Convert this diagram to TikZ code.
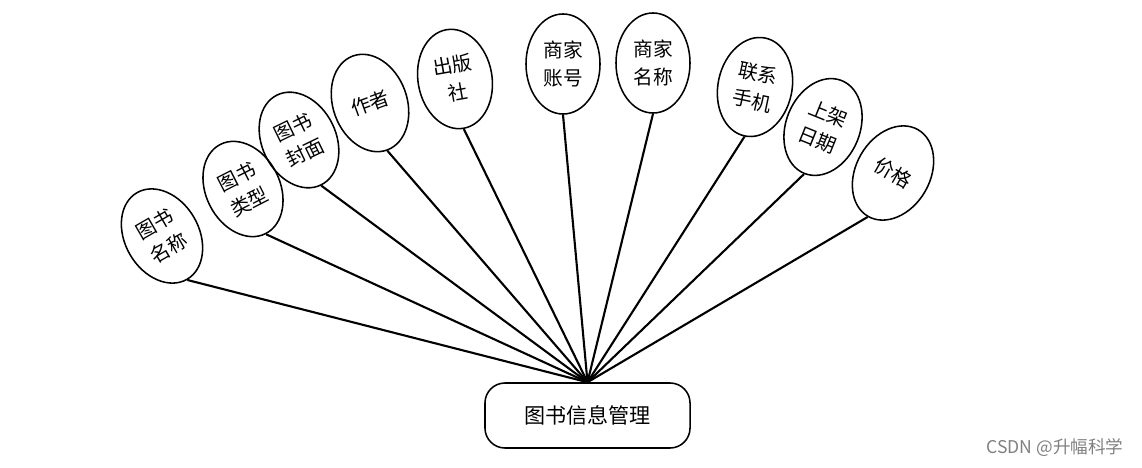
\documentclass[tikz,border=0pt]{standalone}
\usepackage{fontspec}
\newfontfamily\cjk{Noto Sans CJK SC}
\usetikzlibrary{shapes.geometric}

\begin{document}
\begin{tikzpicture}[x=0.025cm,y=0.025cm,
 attr/.style={ellipse,draw,line width=1.1pt,minimum width=1.85cm,minimum height=2.5cm,inner sep=0pt,align=center,font=\cjk\fontsize{14}{20}\selectfont},
 link/.style={line width=1.5pt}]
\useasboundingbox (0,0) rectangle (1142,-467);
\node[draw,line width=1.1pt,rounded corners=0.5cm,minimum width=5.125cm,minimum height=1.625cm,font=\cjk\fontsize{15}{18}\selectfont] (mgmt) at (587.5,-415.5) {图书信息管理};
\node[attr,rotate=30] (name) at (162,-236) {图书\\名称};
\node[attr,rotate=27] (type) at (243,-189) {图书\\类型};
\node[attr,rotate=26] (cover) at (299,-140) {图书\\封面};
\node[attr,rotate=20] (author) at (370,-103) {作者};
\node[attr,rotate=10] (press) at (455,-79) {出版\\社};
\node[attr] (acct) at (563,-64) {商家\\账号};
\node[attr] (shop) at (653,-63) {商家\\名称};
\node[attr,rotate=-12] (phone) at (755,-87) {联系\\手机};
\node[attr,rotate=-22] (date) at (823,-127) {上架\\日期};
\node[attr,rotate=-30] (price) at (893,-173) {价格};
\foreach \n in {name,type,cover,author,press,acct,shop,phone,date,price}
 \draw[link] (mgmt.north)--(\n.south);
\node[text=gray,font=\cjk\fontsize{12.5}{14}\selectfont] (mark) at (1055,-448) {CSDN @升幅科学};
\end{tikzpicture}
\end{document}
